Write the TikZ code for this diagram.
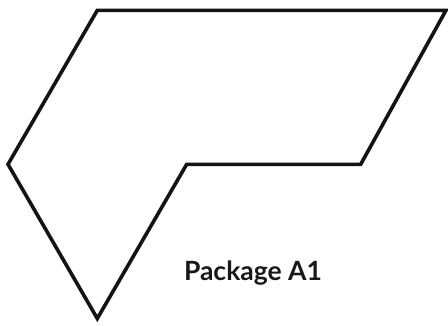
\documentclass[tikz,border=0pt]{standalone}
\usepackage{fontspec}
\setmainfont{Lato}
\tikzset{outline/.style={draw=black!92, line width=3.6pt, line join=miter},
  lbl/.style={font=\bfseries\fontsize{26.5}{31}\selectfont, text=black!90, inner sep=0pt, anchor=base}}
\begin{document}
\begin{tikzpicture}[x=1pt,y=-1pt]
\useasboundingbox (0,0) rectangle (448,325);
\coordinate (tl) at (97.3,10.3);
\coordinate (tr) at (446,10.3);
\coordinate (rb) at (360.7,164.3);
\coordinate (ic) at (186.7,164.3);
\coordinate (lf) at (8,164.3);
\coordinate (bt) at (97.3,318.5);
\draw[outline] (tl) -- (tr) -- (rb) -- (ic) -- (bt) -- (lf) -- cycle;
\node[lbl] (label) at (253,280) {Package A1};
\end{tikzpicture}
\end{document}
